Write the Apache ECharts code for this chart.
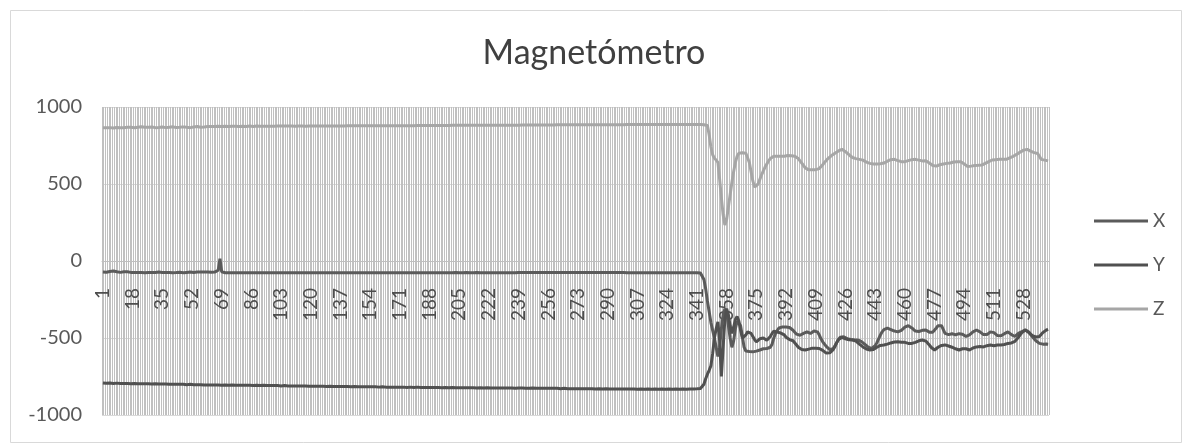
<!DOCTYPE html>
<html>
<head>
<meta charset="utf-8">
<script src="https://cdn.jsdelivr.net/npm/echarts@6/dist/echarts.min.js"></script>
<style>html,body{margin:0;padding:0;background:#fff}#c{width:1188px;height:443px}</style>
</head>
<body>
<div id="c"></div>
<script>
const titleText = "Magnetómetro";
const seriesNames = ["X", "Y", "Z"];
const yTicks = [-1000, -500, 0, 500, 1000];

const xData = [
-72,-74,-73,-70,-68,-66,-65,-67,-70,-72,-74,-73,-70,-68,-70,-72,-74,-75,-74,-74,
-75,-75,-74,-75,-76,-75,-75,-74,-75,-76,-75,-74,-72,-73,-75,-76,-75,-75,-74,-75,
-76,-75,-75,-74,-73,-75,-76,-75,-74,-73,-72,-74,-75,-74,-72,-70,-71,-73,-72,-70,
-72,-74,-73,-70,-72,-74,-60,15,-70,-76,-76,-77,-76,-76,-77,-76,-76,-77,-76,-76,
-76,-77,-76,-76,-77,-76,-77,-76,-76,-77,-76,-76,-77,-76,-76,-77,-76,-77,-76,-76,
-77,-76,-76,-77,-76,-77,-76,-76,-77,-76,-76,-77,-76,-77,-76,-76,-77,-76,-76,-77,
-76,-77,-76,-76,-77,-76,-77,-76,-76,-77,-76,-76,-77,-76,-76,-77,-76,-77,-76,-76,
-77,-76,-76,-77,-76,-77,-76,-76,-77,-76,-76,-77,-76,-77,-76,-76,-77,-76,-76,-77,
-76,-77,-76,-76,-77,-76,-77,-76,-76,-77,-76,-76,-77,-76,-76,-77,-76,-77,-76,-76,
-77,-76,-76,-77,-76,-77,-76,-76,-77,-76,-76,-77,-76,-77,-76,-76,-77,-76,-76,-77,
-76,-75,-74,-75,-76,-77,-76,-75,-74,-75,-76,-77,-76,-76,-75,-76,-77,-76,-76,-77,
-76,-77,-76,-76,-77,-76,-77,-76,-76,-77,-76,-76,-77,-76,-76,-77,-76,-75,-74,-75,
-74,-75,-74,-75,-74,-75,-74,-75,-74,-75,-74,-75,-74,-75,-74,-75,-74,-75,-74,-75,
-74,-75,-74,-75,-74,-75,-74,-75,-74,-75,-74,-75,-74,-75,-74,-75,-74,-75,-74,-75,
-75,-74,-75,-74,-75,-74,-75,-74,-75,-74,-75,-76,-75,-76,-75,-76,-75,-76,-75,-76,
-76,-75,-76,-75,-76,-75,-76,-75,-76,-75,-76,-75,-76,-75,-76,-75,-76,-75,-76,-75,
-76,-75,-76,-75,-76,-75,-76,-75,-76,-75,-76,-75,-76,-75,-76,-75,-76,-75,-76,-76,
-76,-76,-78,-80,-120,-180,-260,-330,-400,-450,-500,-560,-620,-560,-440,-350,-310,-330,-420,-500,
-560,-520,-440,-390,-380,-420,-490,-560,-585,-590,-588,-592,-590,-588,-585,-580,-578,-575,-570,-572,
-568,-566,-560,-540,-500,-470,-450,-435,-430,-428,-430,-428,-430,-432,-440,-450,-462,-475,-480,-482,
-478,-470,-465,-460,-462,-470,-465,-455,-450,-460,-480,-505,-525,-540,-555,-565,-575,-578,-570,-550,
-530,-510,-495,-488,-492,-498,-504,-508,-510,-512,-512,-514,-513,-515,-522,-530,-540,-550,-560,-565,
-568,-565,-550,-530,-505,-480,-460,-445,-438,-436,-440,-445,-450,-455,-458,-460,-458,-450,-440,-430,
-422,-420,-425,-435,-445,-455,-460,-458,-455,-450,-446,-448,-455,-462,-468,-462,-450,-435,-420,-408,
-420,-445,-470,-482,-478,-474,-472,-475,-480,-478,-472,-470,-475,-485,-490,-488,-480,-470,-460,-452,
-448,-452,-460,-470,-478,-482,-478,-470,-460,-458,-465,-475,-484,-488,-486,-480,-472,-465,-460,-468,
-478,-486,-490,-488,-470,-465,-458,-452,-448,-450,-462,-478,-492,-505,-518,-528,-535,-539,-540,-538,
-539,-540
];

const yData = [
-792,-793,-794,-793,-792,-794,-795,-794,-793,-794,-795,-796,-795,-794,-795,-796,-797,-796,-795,-796,
-797,-796,-797,-798,-797,-796,-797,-798,-799,-798,-797,-798,-799,-800,-799,-798,-799,-800,-801,-800,
-801,-800,-801,-802,-801,-800,-801,-802,-803,-802,-801,-802,-803,-804,-803,-802,-803,-804,-805,-804,
-805,-804,-805,-806,-805,-804,-805,-806,-807,-806,-805,-806,-807,-806,-805,-806,-807,-808,-807,-806,
-807,-808,-807,-806,-807,-808,-809,-808,-807,-808,-809,-808,-807,-808,-809,-810,-809,-808,-809,-810,
-809,-810,-811,-810,-809,-810,-811,-810,-811,-812,-811,-810,-811,-812,-811,-810,-811,-812,-813,-812,
-813,-812,-813,-814,-813,-812,-813,-814,-815,-814,-813,-814,-815,-814,-815,-816,-815,-814,-815,-816,
-815,-816,-817,-816,-815,-816,-817,-816,-817,-818,-817,-816,-817,-818,-817,-816,-817,-818,-819,-818,
-817,-818,-819,-818,-819,-820,-819,-818,-819,-820,-819,-818,-819,-820,-821,-820,-819,-820,-821,-820,
-819,-820,-821,-820,-821,-822,-821,-820,-821,-822,-821,-820,-821,-822,-823,-822,-821,-822,-823,-822,
-821,-822,-823,-822,-823,-824,-823,-822,-823,-824,-823,-822,-823,-824,-825,-824,-823,-824,-825,-824,
-823,-824,-825,-824,-825,-826,-825,-824,-825,-826,-825,-824,-825,-826,-825,-826,-827,-826,-825,-826,
-825,-826,-827,-826,-827,-826,-825,-826,-827,-828,-827,-826,-827,-828,-827,-826,-827,-828,-827,-828,
-827,-828,-829,-828,-827,-828,-829,-828,-829,-830,-829,-828,-829,-830,-829,-828,-829,-830,-829,-830,
-829,-830,-831,-830,-829,-830,-831,-830,-829,-830,-831,-830,-831,-832,-831,-830,-831,-832,-831,-830,
-831,-832,-831,-830,-831,-832,-833,-832,-831,-832,-833,-832,-831,-832,-833,-832,-831,-832,-833,-832,
-831,-832,-833,-832,-831,-832,-833,-832,-831,-832,-833,-832,-831,-832,-833,-832,-831,-832,-831,-830,
-830,-829,-828,-820,-800,-765,-735,-710,-680,-600,-500,-440,-395,-520,-750,-560,-380,-310,-350,-420,
-470,-430,-380,-360,-390,-450,-500,-510,-480,-460,-455,-470,-490,-510,-525,-520,-505,-495,-500,-510,
-515,-505,-490,-470,-455,-450,-462,-470,-468,-470,-480,-495,-505,-510,-513,-518,-530,-545,-560,-570,
-575,-578,-578,-575,-572,-568,-566,-565,-567,-570,-568,-572,-580,-590,-598,-600,-596,-590,-575,-555,
-530,-510,-500,-496,-500,-505,-510,-512,-514,-513,-515,-520,-530,-540,-550,-558,-565,-572,-576,-578,
-578,-575,-568,-560,-552,-548,-546,-545,-544,-540,-536,-532,-528,-526,-524,-524,-526,-528,-525,-528,
-532,-535,-536,-535,-532,-528,-522,-518,-515,-513,-515,-520,-530,-545,-560,-572,-578,-570,-560,-552,
-548,-545,-545,-548,-552,-556,-560,-565,-570,-574,-578,-576,-570,-566,-570,-575,-578,-572,-565,-560,
-558,-556,-555,-556,-558,-556,-550,-546,-545,-548,-550,-548,-545,-544,-545,-546,-542,-538,-535,-535,
-532,-530,-522,-510,-495,-480,-465,-455,-448,-452,-465,-475,-485,-490,-493,-495,-490,-478,-465,-455,
-448,-444
];

const zData = [
866,864,865,867,866,864,863,865,867,868,866,864,865,867,869,870,868,866,865,867,
869,871,872,870,868,867,869,871,870,868,866,865,867,869,870,868,866,867,869,870,
871,869,867,866,868,870,871,870,868,867,866,868,870,872,873,871,869,868,870,872,
873,874,873,872,873,874,875,874,873,874,875,874,873,874,875,874,875,874,873,874,
875,875,874,875,876,875,874,875,876,875,875,874,875,876,875,876,875,874,875,876,
876,875,876,877,876,875,876,877,876,876,875,876,877,876,877,876,875,876,877,876,
877,876,877,878,877,876,877,878,877,876,877,878,877,878,877,876,877,878,877,878,
878,877,878,879,878,877,878,879,878,877,878,879,878,879,878,877,878,879,878,879,
879,878,879,880,879,878,879,880,879,878,879,880,879,880,879,878,879,880,879,880,
880,879,880,881,880,879,880,881,880,879,880,881,880,881,880,879,880,881,880,881,
881,880,881,882,881,880,881,882,881,880,881,882,881,882,881,880,881,882,881,882,
882,881,882,883,882,881,882,883,882,881,882,883,882,883,882,881,882,883,882,883,
883,882,883,884,883,882,883,884,883,882,883,884,883,884,883,882,883,884,883,884,
884,883,884,885,884,883,884,885,884,883,884,885,884,885,884,883,884,885,884,885,
885,884,885,886,885,884,885,886,885,884,885,886,885,886,885,884,885,886,885,886,
886,885,886,887,886,885,886,887,886,885,886,887,886,887,886,885,886,887,886,887,
887,886,887,888,887,886,887,888,887,886,887,888,887,888,887,886,887,888,887,888,
887,886,887,886,885,884,880,820,740,690,668,655,640,530,410,300,234,270,350,430,
510,580,640,680,700,695,703,705,700,690,640,580,520,480,472,500,530,560,585,610,
630,650,665,675,680,678,680,682,680,684,680,682,685,680,684,682,680,676,665,650,
635,620,605,595,592,590,592,590,593,595,600,612,625,640,652,665,675,685,695,700,
708,715,720,725,718,710,700,690,680,672,667,665,662,660,658,655,648,642,637,634,
632,630,632,630,634,632,630,636,642,648,654,658,660,660,656,652,648,645,643,645,
648,652,656,658,660,660,658,655,652,650,652,651,645,636,628,620,617,616,620,625,
628,630,632,634,634,636,640,643,646,645,644,645,640,630,620,613,614,616,618,620,
622,621,623,623,628,634,640,645,650,656,656,658,659,660,660,661,662,660,664,670,
676,680,686,692,700,707,714,720,724,725,720,714,708,704,700,698,680,660,656,655,
654,650
];

const categories = xData.map((_, i) => String(i + 1));
if (xData.length !== yData.length || yData.length !== zData.length) {
  throw new Error("length mismatch " + xData.length + " " + yData.length + " " + zData.length);
}

const FONT = "Lato";
const TXT = "#595959";
const chart = echarts.init(document.getElementById('c'), null, {renderer: 'canvas'});
chart.setOption({
  backgroundColor: '#ffffff',
  animation: false,
  graphic: [{
    type: 'rect', left: 8, top: 8, z: -10,
    shape: {width: 1171, height: 432},
    style: {fill: 'none', stroke: '#d9d9d9', lineWidth: 1}
  }],
  title: {
    text: titleText, left: 'center', top: 31,
    textStyle: {fontFamily: FONT, fontSize: 34, fontWeight: 'normal', color: '#404040'}
  },
  legend: {
    orient: 'vertical', left: 1089, top: 206,
    itemWidth: 54, itemHeight: 3, itemGap: 24, icon: 'rect',
    textStyle: {fontFamily: FONT, fontSize: 19, color: TXT, lineHeight: 20},
    data: seriesNames
  },
  grid: {left: 102, right: 139, top: 107, bottom: 28, containLabel: false, outerBoundsMode: 'none'},
  xAxis: {
    type: 'category', data: categories, boundaryGap: true, position: 'bottom', offset: 0,
    axisLine: {show: true, onZero: false, lineStyle: {color: '#bfbfbf', width: 1}},
    axisTick: {show: false},
    axisLabel: {interval: 16, rotate: 90, margin: 27, fontFamily: FONT, fontSize: 19, color: '#4d4d4d', hideOverlap: false},
    splitLine: {show: true, interval: 0, lineStyle: {color: '#c0c0c0', width: 1}}
  },
  yAxis: {
    type: 'value', min: yTicks[0], max: yTicks[yTicks.length - 1], interval: 500,
    axisLine: {show: false}, axisTick: {show: false},
    axisLabel: {margin: 20, fontFamily: FONT, fontSize: 20, color: TXT, formatter: v => String(v)},
    splitLine: {show: true, lineStyle: {color: '#d9d9d9', width: 1}}
  },
  series: [
    {name: seriesNames[0], type: 'line', data: xData, symbol: 'none', lineStyle: {color: '#5b5b5b', width: 3}, itemStyle: {color: '#5b5b5b'}},
    {name: seriesNames[1], type: 'line', data: yData, symbol: 'none', lineStyle: {color: '#505050', width: 3}, itemStyle: {color: '#505050'}},
    {name: seriesNames[2], type: 'line', data: zData, symbol: 'none', lineStyle: {color: '#a6a6a6', width: 3}, itemStyle: {color: '#a6a6a6'}}
  ]
});
// Place the category axis where the value axis crosses zero (as in the original spreadsheet chart).
const zeroPx = chart.convertToPixel({yAxisIndex: 0}, 0);
const bottomPx = chart.convertToPixel({yAxisIndex: 0}, yTicks[0]);
chart.setOption({xAxis: {offset: zeroPx - bottomPx}});
</script>
</body>
</html>
